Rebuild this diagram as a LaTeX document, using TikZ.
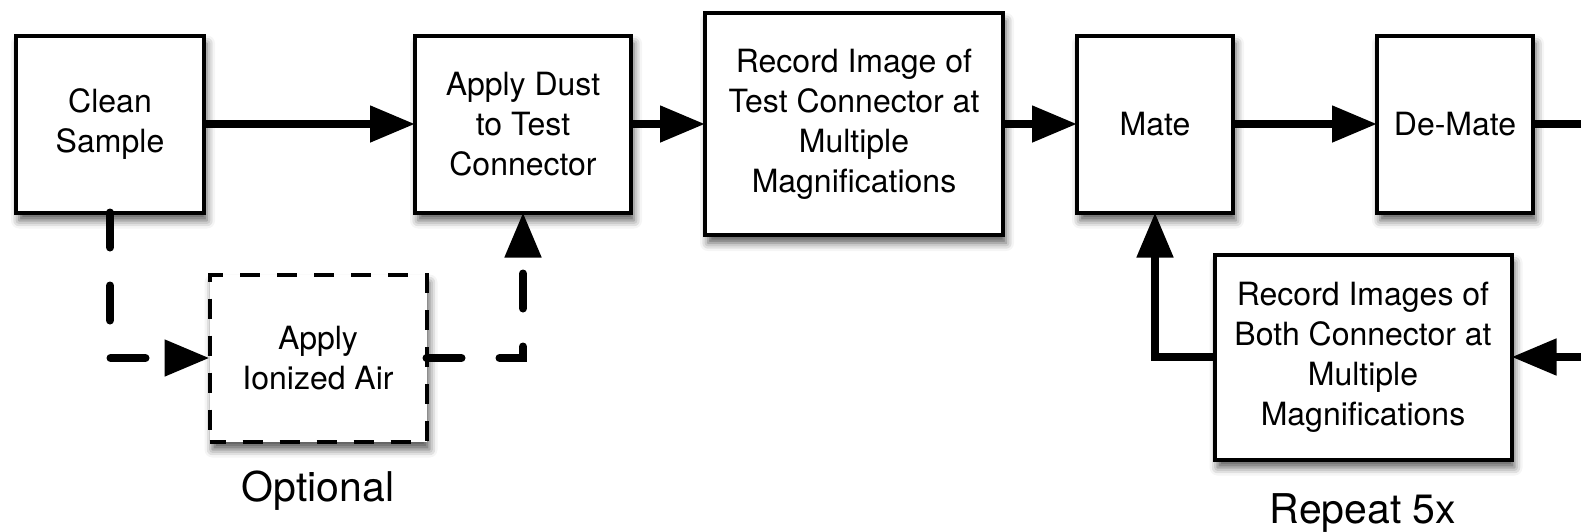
\documentclass[tikz,border=0pt]{standalone}
\usepackage{fontspec}
\setmainfont{TeX Gyre Heros}
\usetikzlibrary{arrows.meta,shadows.blur}

\tikzset{
	stepbox/.style={draw, line width=4pt, fill=white, align=center, inner sep=0pt, outer sep=0pt,
		font=\fontsize{32}{40}\selectfont,
		blur shadow={shadow xshift=3pt, shadow yshift=-8pt, shadow blur radius=8pt, shadow opacity=65}},
	optbox/.style={stepbox, dash pattern=on 20pt off 17pt, dash phase=4pt},
	flow/.style={line width=8pt, -{Triangle[length=45pt,width=35pt]}},
	optflow/.style={flow, line cap=round, dash pattern=on 35pt off 38pt},
	note/.style={font=\fontsize{41}{48}\selectfont, anchor=base}
}

\begin{document}
\begin{tikzpicture}[x=1pt, y=-1pt]
	\useasboundingbox (0,0) rectangle (1581,531);

	% main line of steps
	\node[stepbox, minimum width=188, minimum height=177] (clean) at (110,124) {Clean\\Sample};
	\node[stepbox, minimum width=216, minimum height=177] (dust) at (523,124) {Apply Dust\\to Test\\Connector};
	\node[stepbox, minimum width=298, minimum height=222] (recone) at (854,124) {Record Image of\\Test Connector at\\Multiple\\Magnifications};
	\node[stepbox, minimum width=156, minimum height=177] (mate) at (1155,124) {Mate};
	\node[stepbox, minimum width=156, minimum height=177] (demate) at (1455,124) {De-Mate};

	% optional step
	\node[optbox, minimum width=217, minimum height=167] (air) at (318,358) {Apply\\Ionized Air};
	\node[note] (optlabel) at (318,501) {Optional};

	% loop back
	\node[stepbox, minimum width=297, minimum height=205] (rectwo) at (1363,357) {Record Images of\\Both Connector at\\Multiple\\Magnifications};
	\node[note] (repeatlabel) at (1363,523) {Repeat 5x};

	% free ends at the right edge
	\coordinate (outright) at (1581,124);
	\coordinate (inright) at (1581,357);

	% connectors
	\draw[flow] (clean) -- (dust);
	\draw[flow] (dust) -- (recone);
	\draw[flow] (recone) -- (mate);
	\draw[flow] (mate) -- (demate);
	\draw[line width=8pt] (demate) -- (outright);
	\draw[flow] (inright) -- (rectwo);
	\draw[flow] (rectwo.west) -| (mate.south);
	\draw[optflow] (clean.south) |- (air.west);
	\draw[optflow] (air.east) -| (dust.south);
\end{tikzpicture}
\end{document}
